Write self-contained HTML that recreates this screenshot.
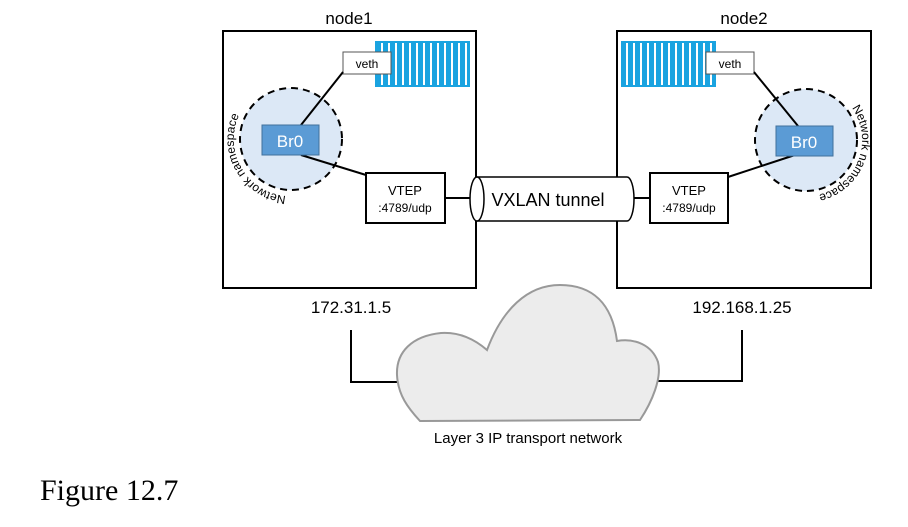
<!DOCTYPE html>
<html><head><style>
body{margin:0;background:#fff;width:908px;height:522px;overflow:hidden}
svg text{font-family:"Liberation Sans",sans-serif}
</style></head><body>
<svg width="908" height="522" viewBox="0 0 908 522" xmlns="http://www.w3.org/2000/svg">
<defs>
<pattern id="stripe" x="0" y="0" width="7" height="10" patternUnits="userSpaceOnUse">
<rect width="7" height="10" fill="#1aa3e0"/><rect x="3" width="2" height="10" fill="#fff"/>
</pattern>
<path id="arcL" d="M286,196 A57,57 0 0,1 250.7,98.7"/>
<path id="arcR" d="M851.9,107.9 A56,56 0 0,1 770,182.9"/>
</defs>
<text x="349" y="24" font-size="17" text-anchor="middle">node1</text>
<text x="744" y="24" font-size="17" text-anchor="middle">node2</text>
<rect x="223" y="31" width="253" height="257" fill="none" stroke="#000" stroke-width="2"/>
<rect x="617" y="31" width="254" height="257" fill="none" stroke="#000" stroke-width="2"/>
<rect x="376" y="42" width="93" height="44" fill="url(#stripe)" stroke="#1aa3e0" stroke-width="2"/>
<rect x="343" y="52" width="48" height="22" fill="#fff" stroke="#555"/>
<text x="367" y="68" font-size="12" text-anchor="middle">veth</text>
<circle cx="291" cy="139" r="51" fill="#dce8f6" stroke="#000" stroke-width="2" stroke-dasharray="7,5"/>
<line x1="301" y1="125" x2="343" y2="72" stroke="#000" stroke-width="2"/>
<line x1="301" y1="155" x2="366" y2="175" stroke="#000" stroke-width="2"/>
<rect x="262" y="125" width="57" height="30" fill="#5b9bd5" stroke="#41719c"/>
<text x="290" y="147" font-size="17" fill="#fff" text-anchor="middle">Br0</text>
<rect x="366" y="173" width="79" height="50" fill="#fff" stroke="#000" stroke-width="2"/>
<text x="405" y="195" font-size="13" text-anchor="middle">VTEP</text>
<text x="405" y="212" font-size="12" text-anchor="middle">:4789/udp</text>
<text font-size="12"><textPath href="#arcL" startOffset="0">Network namespace</textPath></text>
<rect x="622" y="42" width="93" height="44" fill="url(#stripe)" stroke="#1aa3e0" stroke-width="2"/>
<rect x="706" y="52" width="48" height="22" fill="#fff" stroke="#555"/>
<text x="730" y="68" font-size="12" text-anchor="middle">veth</text>
<circle cx="806" cy="140" r="51" fill="#dce8f6" stroke="#000" stroke-width="2" stroke-dasharray="7,5"/>
<line x1="798" y1="126" x2="754" y2="72" stroke="#000" stroke-width="2"/>
<line x1="795" y1="155" x2="728" y2="177" stroke="#000" stroke-width="2"/>
<rect x="776" y="126" width="57" height="30" fill="#5b9bd5" stroke="#41719c"/>
<text x="804" y="148" font-size="17" fill="#fff" text-anchor="middle">Br0</text>
<rect x="650" y="173" width="78" height="50" fill="#fff" stroke="#000" stroke-width="2"/>
<text x="689" y="195" font-size="13" text-anchor="middle">VTEP</text>
<text x="689" y="212" font-size="12" text-anchor="middle">:4789/udp</text>
<text font-size="12"><textPath href="#arcR" startOffset="0">Network namespace</textPath></text>
<line x1="445" y1="198" x2="470" y2="198" stroke="#000" stroke-width="2"/>
<line x1="630" y1="198" x2="650" y2="198" stroke="#000" stroke-width="2"/>
<path d="M477,177 L627,177 A7,22 0 0,1 627,221 L477,221" fill="#fff" stroke="#000" stroke-width="1.5"/>
<ellipse cx="477" cy="199" rx="7" ry="22" fill="#fff" stroke="#000" stroke-width="1.5"/>
<text x="548" y="206" font-size="18" text-anchor="middle">VXLAN tunnel</text>
<text x="351" y="313" font-size="17" text-anchor="middle">172.31.1.5</text>
<text x="742" y="313" font-size="17" text-anchor="middle">192.168.1.25</text>
<polyline points="351,330 351,382 400,382" fill="none" stroke="#000" stroke-width="2"/>
<polyline points="742,330 742,381 655,381" fill="none" stroke="#000" stroke-width="2"/>
<path d="M420,421 L640,420 C652,402 662,378 658,362 C652,345 635,338 617,341 C612,303 592,285 560,285 C527,285 502,310 487,350 C472,337 457,332 441,333 C412,336 396,352 397,375 C398,395 408,408 420,421 Z" fill="#ececec" stroke="#999" stroke-width="2"/>
<text x="528" y="443" font-size="15" text-anchor="middle">Layer 3 IP transport network</text>
<text x="40" y="500" font-size="30" style="font-family:'Liberation Serif',serif">Figure 12.7</text>
</svg>
</body></html>
